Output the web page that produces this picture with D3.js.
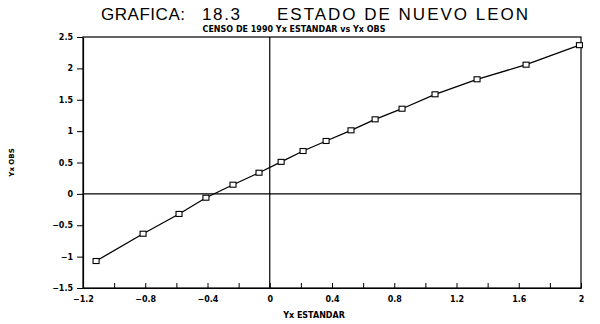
<!DOCTYPE html>
<html>
<head>
<meta charset="utf-8">
<script src="https://cdn.jsdelivr.net/npm/d3@7"></script>
<style>
  html, body { margin: 0; padding: 0; background: #fff; }
  svg { display: block; }
  text { fill: #000; }
</style>
</head>
<body>
<svg id="chart" width="600" height="324"></svg>
<script>
// ---- data ----
const xValues = [-1.116, -0.814, -0.583, -0.41, -0.236, -0.069, 0.073, 0.214, 0.362, 0.522, 0.677, 0.85, 1.062, 1.332, 1.647, 1.99];
const yValues = [-1.07, -0.635, -0.32, -0.061, 0.146, 0.337, 0.51, 0.683, 0.843, 1.013, 1.188, 1.357, 1.587, 1.826, 2.059, 2.37];
const xTickValues = [-1.2, -1.0, -0.8, -0.6, -0.4, -0.2, 0, 0.2, 0.4, 0.6, 0.8, 1.0, 1.2, 1.4, 1.6, 1.8, 2.0];
const xTickLabels = ["−1.2", "", "−0.8", "", "−0.4", "", "0", "", "0.4", "", "0.8", "", "1.2", "", "1.6", "", "2"];
const yTickValues = [2.5, 2, 1.5, 1, 0.5, 0, -0.5, -1, -1.5];
const yTickLabels = ["2.5", "2", "1.5", "1", "0.5", "0", "−0.5", "−1", "−1.5"];
const titleParts = ["GRAFICA:", "18.3", "ESTADO DE NUEVO LEON"];
const subtitleText = "CENSO DE 1990 Yx ESTANDAR vs Yx OBS";
const xTitle = "Yx ESTANDAR";
const yTitle = "Yx OBS";

// ---- layout ----
const pLeft = 83, pRight = 581, pTop = 37, pBottom = 288;
const svg = d3.select("#chart");
const x = d3.scaleLinear().domain([-1.2, 2]).range([pLeft, pRight]);
const y = d3.scaleLinear().domain([-1.5, 2.5]).range([pBottom, pTop]);

const tickFont = "'DejaVu Sans', sans-serif";

// frame
svg.append("rect")
  .attr("x", pLeft).attr("y", pTop)
  .attr("width", pRight - pLeft).attr("height", pBottom - pTop)
  .attr("fill", "none").attr("stroke", "#000").attr("stroke-width", 1.2);

// zero lines
svg.append("line")
  .attr("x1", pLeft).attr("x2", pRight)
  .attr("y1", y(0)).attr("y2", y(0))
  .attr("stroke", "#000").attr("stroke-width", 1.2);
svg.append("line")
  .attr("x1", x(0)).attr("x2", x(0))
  .attr("y1", pTop).attr("y2", pBottom)
  .attr("stroke", "#000").attr("stroke-width", 1.2);

// bottom axis
const xAxis = d3.axisBottom(x)
  .tickValues(xTickValues)
  .tickSizeInner(-5).tickSizeOuter(0)
  .tickPadding(10)
  .tickFormat((d, i) => xTickLabels[i]);
const gx = svg.append("g").attr("transform", `translate(0,${pBottom})`).call(xAxis);
gx.select(".domain").attr("stroke", "#000").attr("stroke-width", 1.2);
gx.selectAll(".tick line").attr("stroke", "#000").attr("stroke-width", 1);
gx.selectAll(".tick text")
  .attr("font-family", tickFont).attr("font-weight", "bold").attr("font-size", 8)
  .attr("dy", "0.55em");

// left axis
const yAxis = d3.axisLeft(y)
  .tickValues(yTickValues)
  .tickSizeInner(6).tickSizeOuter(0)
  .tickPadding(4)
  .tickFormat((d, i) => yTickLabels[i]);
const gy = svg.append("g").attr("transform", `translate(${pLeft},0)`).call(yAxis);
gy.select(".domain").attr("stroke", "#000").attr("stroke-width", 1.2);
gy.selectAll(".tick line").attr("stroke", "#000").attr("stroke-width", 1);
gy.selectAll(".tick text")
  .attr("font-family", tickFont).attr("font-weight", "bold").attr("font-size", 8);

// line
const pts = xValues.map((v, i) => [v, yValues[i]]);
svg.append("path")
  .datum(pts)
  .attr("fill", "none").attr("stroke", "#000").attr("stroke-width", 1.3)
  .attr("d", d3.line().x(d => x(d[0])).y(d => y(d[1])));

// markers
svg.append("g").selectAll("rect")
  .data(pts).join("rect")
  .attr("x", d => x(d[0]) - 3).attr("y", d => y(d[1]) - 2.5)
  .attr("width", 6).attr("height", 5)
  .attr("fill", "#fff").attr("stroke", "#000").attr("stroke-width", 1.1);

// titles
const titleX = [101, 202, 277];
const titleW = [84, 38, 251];
svg.append("g").selectAll("text")
  .data(titleParts).join("text")
  .attr("x", (d, i) => titleX[i]).attr("y", 20)
  .attr("font-family", "'Liberation Sans', Arial, sans-serif")
  .attr("font-size", 17)
  .attr("textLength", (d, i) => titleW[i])
  .attr("lengthAdjust", "spacing")
  .text(d => d);
svg.append("text")
  .attr("x", 294).attr("y", 32)
  .attr("text-anchor", "middle")
  .attr("font-family", tickFont).attr("font-weight", "bold")
  .attr("font-size", 8)
  .text(subtitleText);
svg.append("text")
  .attr("x", 314).attr("y", 318)
  .attr("text-anchor", "middle")
  .attr("font-family", tickFont).attr("font-weight", "bold")
  .attr("font-size", 8)
  .text(xTitle);
svg.append("text")
  .attr("transform", `translate(14,${(pTop + pBottom) / 2}) rotate(-90)`)
  .attr("text-anchor", "middle")
  .attr("font-family", tickFont).attr("font-weight", "bold")
  .attr("font-size", 7)
  .text(yTitle);
</script>
</body>
</html>
